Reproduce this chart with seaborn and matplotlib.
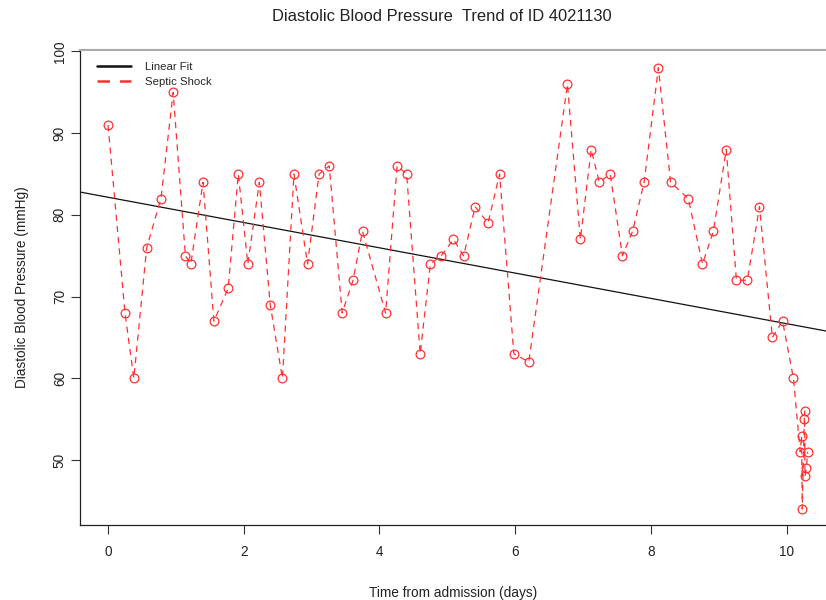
import matplotlib
matplotlib.use("Agg")
import matplotlib.pyplot as plt
import seaborn as sns
import numpy as np
import pandas as pd

# ---- data ----
time_days = [0.00, 0.25, 0.38, 0.57, 0.78, 0.96, 1.14, 1.22, 1.40, 1.56,
             1.77, 1.92, 2.06, 2.23, 2.39, 2.57, 2.74, 2.94, 3.11, 3.26,
             3.45, 3.61, 3.75, 4.09, 4.26, 4.40, 4.60, 4.75, 4.91, 5.09,
             5.24, 5.41, 5.60, 5.77, 5.98, 6.20, 6.77, 6.96, 7.12, 7.24,
             7.40, 7.58, 7.73, 7.90, 8.11, 8.29, 8.55, 8.76, 8.92, 9.11,
             9.26, 9.42, 9.60, 9.79, 9.94, 10.10, 10.20, 10.22, 10.23, 10.26,
             10.265, 10.27, 10.29, 10.31]
dbp = [91, 68, 60, 76, 82, 95, 75, 74, 84, 67,
       71, 85, 74, 84, 69, 60, 85, 74, 85, 86,
       68, 72, 78, 68, 86, 85, 63, 74, 75, 77,
       75, 81, 79, 85, 63, 62, 96, 77, 88, 84,
       85, 75, 78, 84, 98, 84, 82, 74, 78, 88,
       72, 72, 81, 65, 67, 60, 51, 53, 44, 55,
       56, 48, 49, 51]

# linear fit shown in the reference (intercept, slope per day)
fit_intercept = 82.16
fit_slope = -1.547

title = "Diastolic Blood Pressure  Trend of ID 4021130"
x_label = "Time from admission (days)"
y_label = "Diastolic Blood Pressure (mmHg)"
series_name = "Septic Shock"
fit_name = "Linear Fit"
x_ticks = [0, 2, 4, 6, 8, 10]
y_ticks = [50, 60, 70, 80, 90, 100]

df = pd.DataFrame({"time": time_days, "dbp": dbp})

sns.set_style("ticks")
plt.rcParams["font.family"] = ["Liberation Sans", "DejaVu Sans"]

fig = plt.figure(figsize=(8.26, 6.0), dpi=100)
ax = fig.add_axes([80 / 826, 75 / 600, 1 - 80 / 826, (525 - 50) / 600])

xlim = (-0.413, 10.58)
ylim = (42.05, 100.18)

xf = np.array(xlim)
ax.plot(xf, fit_intercept + fit_slope * xf, color="#111111", lw=0.9, label=fit_name)

sns.lineplot(data=df, x="time", y="dbp", ax=ax, sort=False, estimator=None,
             color="#ff3030", lw=0.9, linestyle=(0, (5, 4)),
             marker="o", markersize=6.3, markerfacecolor="none",
             markeredgecolor="#ff3030", markeredgewidth=0.9,
             label=series_name)

ax.set_xlim(*xlim)
ax.set_ylim(*ylim)
ax.set_xticks(x_ticks)
ax.set_yticks(y_ticks)
ax.tick_params(axis="both", direction="out", length=6.5, width=0.8,
               color="#333333", labelsize=9.8, labelcolor="#222222")
ax.tick_params(axis="x", pad=8)
ax.tick_params(axis="y", pad=3)
for lab in ax.get_yticklabels():
    lab.set_rotation(90)
    lab.set_va("center")

ax.set_xlabel(x_label, fontsize=9.8, color="#222222", labelpad=19)
ax.set_ylabel(y_label, fontsize=9.8, color="#222222", labelpad=17)
fig.text(0.535, 0.972, title, ha="center", va="center", fontsize=11.9, color="#222222")

for s in ["left", "bottom"]:
    ax.spines[s].set_color("#222222")
    ax.spines[s].set_linewidth(0.9)
ax.spines["top"].set_color("#aaaaaa")
ax.spines["top"].set_linewidth(1.5)
ax.spines["right"].set_visible(False)

leg = ax.legend(loc="upper left", frameon=False, fontsize=8.2,
                handlelength=3.0, handletextpad=1.2, borderaxespad=0.0,
                labelspacing=0.45, bbox_to_anchor=(0.017, 0.985))
for h in leg.legend_handles:
    h.set_marker("")
    h.set_linewidth(1.8)

fig.savefig("out.png", dpi=100)
